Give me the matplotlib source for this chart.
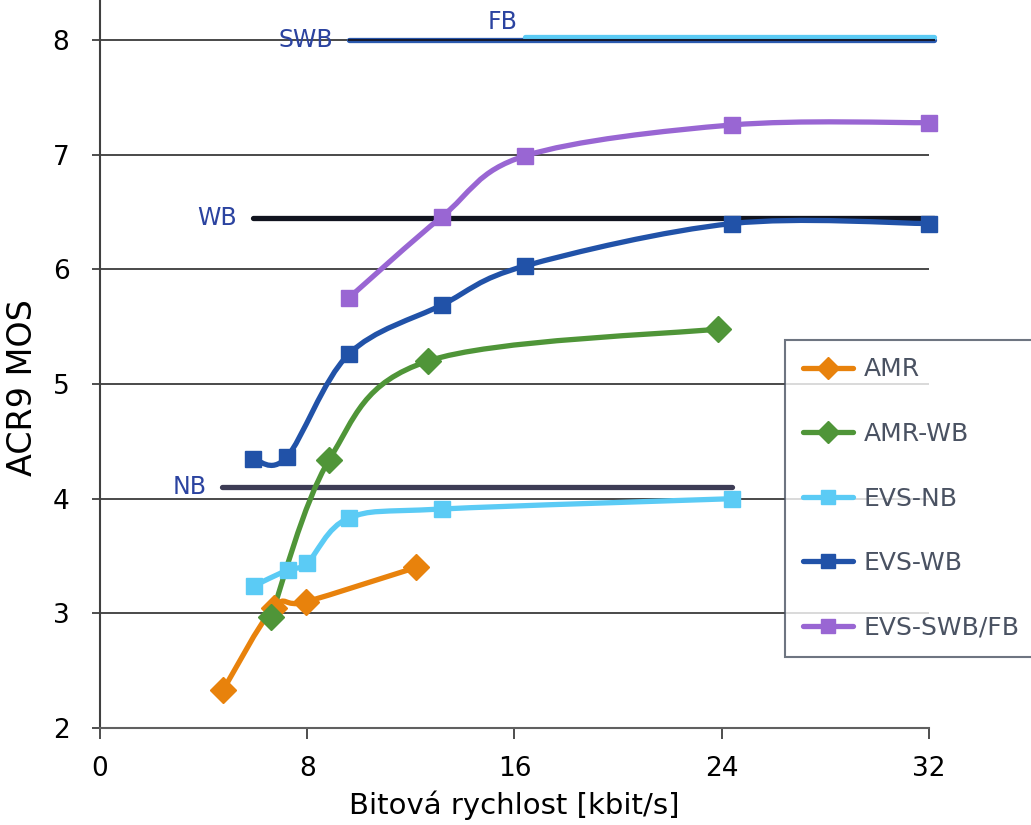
import matplotlib
matplotlib.use('Agg')
import matplotlib.pyplot as plt
from matplotlib.path import Path
from matplotlib.patches import PathPatch
from matplotlib.lines import Line2D

plt.rcParams['font.family'] = ['DejaVu Sans']

# series data (bitrate kbit/s, ACR9 MOS)
amr_x = [4.75, 6.7, 7.95, 12.2]
amr_y = [2.33, 3.05, 3.10, 3.40]
amrwb_x = [6.6, 8.85, 12.65, 23.85]
amrwb_y = [2.97, 4.34, 5.20, 5.48]
evsnb_x = [5.95, 7.25, 8.0, 9.6, 13.2, 24.4]
evsnb_y = [3.24, 3.38, 3.44, 3.83, 3.91, 4.00]
evswb_x = [5.9, 7.2, 9.6, 13.2, 16.4, 24.4, 32.0]
evswb_y = [4.35, 4.36, 5.26, 5.69, 6.03, 6.40, 6.40]
evsswb_x = [9.6, 13.2, 16.4, 24.4, 32.0]
evsswb_y = [5.75, 6.46, 6.99, 7.26, 7.28]

# bandwidth reference lines
ref_names = ['NB', 'WB', 'SWB', 'FB']
ref_levels = [4.10, 6.45, 8.00, 8.03]
ref_start = [4.7, 5.9, 9.6, 16.4]
ref_end = [24.4, 32.2, 32.2, 32.2]

series = [
    ('AMR', amr_x, amr_y, '#E8820C', 'D', 13),
    ('AMR-WB', amrwb_x, amrwb_y, '#4F9538', 'D', 13),
    ('EVS-NB', evsnb_x, evsnb_y, '#5BCBF5', 's', 12),
    ('EVS-WB', evswb_x, evswb_y, '#2152A8', 's', 12),
    ('EVS-SWB/FB', evsswb_x, evsswb_y, '#9966D3', 's', 12),
]


def smooth_path(xs, ys, k=1.0 / 6):
    """Excel-like smoothed line as cubic bezier path"""
    pts = list(zip(xs, ys))
    n = len(pts)
    verts = [pts[0]]
    codes = [Path.MOVETO]
    for i in range(n - 1):
        p0 = pts[i - 1] if i > 0 else pts[i]
        p1 = pts[i]
        p2 = pts[i + 1]
        p3 = pts[i + 2] if i + 2 < n else pts[i + 1]
        c1 = (p1[0] + (p2[0] - p0[0]) * k, p1[1] + (p2[1] - p0[1]) * k)
        c2 = (p2[0] - (p3[0] - p1[0]) * k, p2[1] - (p3[1] - p1[1]) * k)
        verts += [c1, c2, p2]
        codes += [Path.CURVE4] * 3
    return Path(verts, codes)


fig = plt.figure(figsize=(10.31, 8.25), dpi=100)
ax = fig.add_axes([0.097, 0.1176, 0.804, 0.8824])
ax.set_xlim(0, 32)
ax.set_ylim(2, 8.35)

# horizontal gridlines
for yv in [3, 4, 5, 6, 7, 8]:
    ax.plot([0, 32], [yv, yv], color='#3a3a3a', lw=1.3, zorder=1)

# reference lines
ref_colors = ['#3d3c55', '#11141f', '#2a5ab0', '#5BCBF5']
label_color = '#2B43A0'
for name, lvl, x0, x1, c in zip(ref_names, ref_levels, ref_start, ref_end, ref_colors):
    ax.plot([x0, x1], [lvl, lvl], color=c, lw=3.8, solid_capstyle='round',
            zorder=2, clip_on=False)
    if name == 'FB':
        ax.text(x0 - 0.3, lvl + 0.02, name, color=label_color, fontsize=17,
                ha='right', va='bottom')
    else:
        ax.text(x0 - 0.6, lvl, name, color=label_color, fontsize=17,
                ha='right', va='center', zorder=4)
# dark core on the SWB line (8.0 gridline)
ax.plot([ref_start[2], ref_end[2]], [8, 8], color='#151a30', lw=1.5, zorder=3, clip_on=False)

handles = []
for name, xs, ys, c, m, ms in series:
    patch = PathPatch(smooth_path(xs, ys), fill=False, edgecolor=c, lw=3.8,
                      capstyle='round', joinstyle='round', zorder=5)
    ax.add_patch(patch)
    ax.plot(xs, ys, linestyle='none', marker=m, markersize=ms, color=c,
            markeredgecolor=c, zorder=6, clip_on=False)
    handles.append(Line2D([], [], color=c, lw=3.8, marker=m, markersize=ms - 2,
                          solid_capstyle='round'))

ax.spines['top'].set_visible(False)
ax.spines['right'].set_visible(False)
ax.spines['left'].set_color('#404040')
ax.spines['left'].set_linewidth(1.5)
ax.spines['bottom'].set_color('#606060')
ax.spines['bottom'].set_linewidth(1.5)

ax.set_xticks([0, 8, 16, 24, 32])
ax.set_yticks([2, 3, 4, 5, 6, 7, 8])
ax.tick_params(axis='x', length=8, width=1.3, color='#404040', labelsize=19, pad=12)
ax.tick_params(axis='y', length=6, width=1.3, color='#404040', labelsize=19, pad=16)
ax.set_xlabel('Bitová rychlost [kbit/s]', fontsize=21, labelpad=6)
ax.set_ylabel('ACR9 MOS', fontsize=24, labelpad=10)
ax.yaxis.label.set_y(0.467)

leg = fig.legend(handles=handles, labels=[s[0] for s in series],
                 loc='upper left', bbox_to_anchor=(785 / 1031, 1 - 340 / 825),
                 fontsize=18, frameon=True, fancybox=False, handlelength=2.0,
                 labelspacing=1.62, borderpad=0.7, handletextpad=0.45,
                 borderaxespad=0)
leg.get_frame().set_edgecolor('#4a5262')
leg.get_frame().set_linewidth(1.5)
for t in leg.get_texts():
    t.set_color('#4a5262')

fig.savefig('out.png', dpi=100)
